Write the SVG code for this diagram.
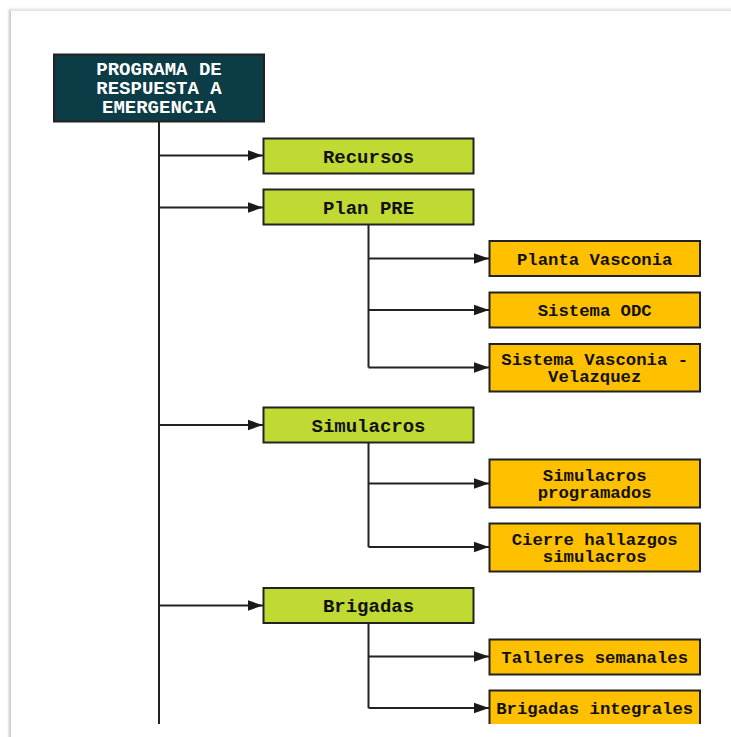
<svg xmlns="http://www.w3.org/2000/svg" width="731" height="737" viewBox="0 0 731 737">
<defs>
<linearGradient id="shL" x1="0" y1="0" x2="1" y2="0"><stop offset="0" stop-color="#ffffff"/><stop offset="1" stop-color="#c4c4c4"/></linearGradient>
<linearGradient id="shT" x1="0" y1="0" x2="0" y2="1"><stop offset="0" stop-color="#ffffff"/><stop offset="1" stop-color="#dedede"/></linearGradient>
<marker id="ah" markerUnits="userSpaceOnUse" markerWidth="16" markerHeight="12" refX="15" refY="6" orient="auto"><path d="M0,0.8 L15,6 L0,11.2 Z" fill="#1a1a1a"/></marker>
<clipPath id="pg"><rect x="11" y="11" width="720" height="713"/></clipPath>
<style>
.hdr{fill:#0c3c45;stroke:#222;stroke-width:2}
.g{fill:#c0da33;stroke:#222;stroke-width:2}
.o{fill:#ffc000;stroke:#222;stroke-width:2}
.t{font-family:"Liberation Mono","DejaVu Sans Mono",monospace;font-weight:bold;text-anchor:middle;fill:#111}
.th{font-family:"Liberation Mono","DejaVu Sans Mono",monospace;font-weight:bold;text-anchor:middle;fill:#ffffff;font-size:19px}
.tg{font-size:19px}
.to{font-size:17.3px}
.ln{fill:none;stroke:#222;stroke-width:2}
.ar{fill:none;stroke:#222;stroke-width:2;marker-end:url(#ah)}
</style>
</defs>
<rect width="731" height="737" fill="#ffffff"/>
<rect x="7" y="9" width="4" height="728" fill="url(#shL)"/>
<rect x="9" y="7" width="722" height="4" fill="url(#shT)"/>
<rect x="11" y="11" width="720" height="726" fill="#ffffff"/>
<g clip-path="url(#pg)">
<g id="connectors">
<path class="ln" d="M159,122 V724"/>
<path class="ar" d="M159,155.5 H263"/>
<path class="ar" d="M159,207.5 H263"/>
<path class="ar" d="M159,425 H263"/>
<path class="ar" d="M159,605.5 H263"/>
<path class="ln" d="M368.5,224.5 V367.5"/>
<path class="ar" d="M368.5,258.5 H489"/>
<path class="ar" d="M368.5,310 H489"/>
<path class="ar" d="M368.5,367.5 H489"/>
<path class="ln" d="M368.5,442.5 V547"/>
<path class="ar" d="M368.5,483.5 H489"/>
<path class="ar" d="M368.5,547 H489"/>
<path class="ln" d="M368.5,623 V708"/>
<path class="ar" d="M368.5,656.5 H489"/>
<path class="ar" d="M368.5,708 H489"/>
</g>
<g id="n-programa">
<rect class="hdr" x="54" y="54.5" width="210" height="67"/>
<text class="th" x="159" y="75">PROGRAMA DE</text>
<text class="th" x="159" y="94">RESPUESTA A</text>
<text class="th" x="159" y="113">EMERGENCIA</text>
</g>
<g id="n-recursos">
<rect class="g" x="263.5" y="138.5" width="210" height="35"/>
<text class="t tg" x="368.5" y="162.5">Recursos</text>
</g>
<g id="n-planpre">
<rect class="g" x="263.5" y="189.5" width="210" height="35"/>
<text class="t tg" x="368.5" y="213.5">Plan PRE</text>
</g>
<g id="n-planta">
<rect class="o" x="489.5" y="241" width="210.5" height="35"/>
<text class="t to" x="594.7" y="264.5">Planta Vasconia</text>
</g>
<g id="n-odc">
<rect class="o" x="489.5" y="292.5" width="210.5" height="35"/>
<text class="t to" x="594.7" y="316">Sistema ODC</text>
</g>
<g id="n-svv">
<rect class="o" x="489.5" y="344" width="210.5" height="47.5"/>
<text class="t to" x="594.7" y="365">Sistema Vasconia -</text>
<text class="t to" x="594.7" y="382">Velazquez</text>
</g>
<g id="n-simulacros">
<rect class="g" x="263.5" y="407.5" width="210" height="35"/>
<text class="t tg" x="368.5" y="431.5">Simulacros</text>
</g>
<g id="n-simprog">
<rect class="o" x="489.5" y="459.5" width="210.5" height="48"/>
<text class="t to" x="594.7" y="480.5">Simulacros</text>
<text class="t to" x="594.7" y="497.5">programados</text>
</g>
<g id="n-cierre">
<rect class="o" x="489.5" y="523.5" width="210.5" height="48"/>
<text class="t to" x="594.7" y="544.5">Cierre hallazgos</text>
<text class="t to" x="594.7" y="561.5">simulacros</text>
</g>
<g id="n-brigadas">
<rect class="g" x="263.5" y="588" width="210" height="35"/>
<text class="t tg" x="368.5" y="612">Brigadas</text>
</g>
<g id="n-talleres">
<rect class="o" x="489.5" y="639.5" width="210.5" height="35"/>
<text class="t to" x="594.7" y="663">Talleres semanales</text>
</g>
<g id="n-brigint">
<rect class="o" x="489.5" y="690.5" width="210.5" height="40"/>
<text class="t to" x="594.7" y="714">Brigadas integrales</text>
</g>
</g>
</svg>
